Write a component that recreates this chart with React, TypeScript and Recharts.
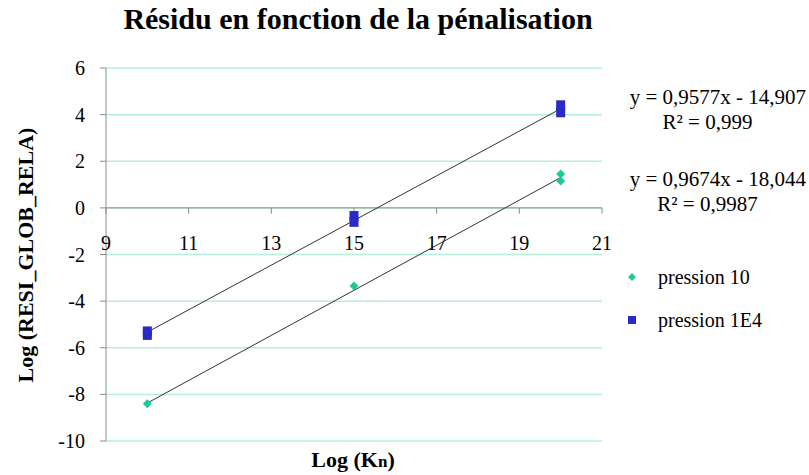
import React from 'react';
import {
  ScatterChart,
  Scatter,
  XAxis,
  YAxis,
  CartesianGrid,
  ReferenceLine,
} from 'recharts';

// measured points
const pression10 = [
  { x: 10, y: -8.4 },
  { x: 15, y: -3.35 },
  { x: 20, y: 1.15 },
  { x: 20, y: 1.45 },
];

const pression1E4 = [
  { x: 10, y: -5.3 },
  { x: 10, y: -5.45 },
  { x: 15, y: -0.35 },
  { x: 15, y: -0.6 },
  { x: 20, y: 4.1 },
  { x: 20, y: 4.4 },
];

// trend line end points
const trend10 = [
  { x: 10, y: -8.37 },
  { x: 20, y: 1.3 },
];
const trend1E4 = [
  { x: 10, y: -5.33 },
  { x: 20, y: 4.25 },
];

const xTicks = [9, 11, 13, 15, 17, 19, 21];
const yTicks = [-10, -8, -6, -4, -2, 0, 2, 4, 6];

const equations = [
  { eq: 'y = 0,9577x - 14,907', r2: 'R² = 0,999' },
  { eq: 'y = 0,9674x - 18,044', r2: 'R² = 0,9987' },
];

const legendItems = [
  { name: 'pression 10', color: '#1cc99a', shape: 'diamond' },
  { name: 'pression 1E4', color: '#2a2ac4', shape: 'square' },
];

const serif = "'Liberation Serif', 'Times New Roman', serif";
const axisGray = '#8c8c8c';

const Diamond = (props: any) => {
  const { cx, cy, fill } = props;
  const r = 4.5;
  return (
    <polygon
      points={`${cx},${cy - r} ${cx + r},${cy} ${cx},${cy + r} ${cx - r},${cy}`}
      fill={fill}
    />
  );
};

const Square = (props: any) => {
  const { cx, cy, fill } = props;
  const w = 9;
  const h = 10;
  return <rect x={cx - w / 2} y={cy - h / 2} width={w} height={h} fill={fill} />;
};

const App: React.FC = () => {
  return (
    <div style={{ position: 'absolute', left: 0, top: 0, width: 809, height: 475, background: '#fff', fontFamily: serif }}>
      <div
        style={{
          position: 'absolute',
          left: 0,
          width: 716,
          top: 2,
          textAlign: 'center',
          fontSize: 30,
          fontWeight: 'bold',
        }}
      >
        Résidu en fonction de la pénalisation
      </div>
      <div
        style={{
          position: 'absolute',
          left: 26,
          top: 255,
          transform: 'translate(-50%, -50%) rotate(-90deg)',
          whiteSpace: 'nowrap',
          fontSize: 22,
          fontWeight: 'bold',
        }}
      >
        Log (RESI_GLOB_RELA)
      </div>
      <div
        style={{
          position: 'absolute',
          left: 253,
          width: 200,
          top: 447,
          textAlign: 'center',
          fontSize: 22,
          fontWeight: 'bold',
        }}
      >
        Log (K<span style={{ fontSize: 17 }}>n</span>)
      </div>

      <ScatterChart
        width={809}
        height={475}
        margin={{ top: 68, right: 207, bottom: 34, left: 56 }}
        style={{ position: 'absolute', left: 0, top: 0 }}
      >
        <CartesianGrid vertical={false} stroke="#b6f0da" strokeWidth={1.5} />
        <XAxis type="number" dataKey="x" domain={[9, 21]} ticks={xTicks} hide height={0} />
        <YAxis
          type="number"
          dataKey="y"
          domain={[-10, 6]}
          ticks={yTicks}
          width={50}
          interval={0}
          axisLine={{ stroke: axisGray }}
          tickLine={{ stroke: axisGray }}
          tickSize={6}
          tickMargin={15}
          tick={{ fill: '#000', fontSize: 20, fontFamily: serif }}
        />
        <ReferenceLine y={0} stroke={axisGray} strokeWidth={1} />
        {xTicks.map((t) => (
          <ReferenceLine
            key={t}
            segment={[
              { x: t, y: 0 },
              { x: t, y: -0.25 },
            ]}
            stroke={axisGray}
            ifOverflow="visible"
            label={{
              value: String(t),
              position: 'bottom',
              fill: '#000',
              fontSize: 20,
              fontFamily: serif,
              offset: 22,
            }}
          />
        ))}
        <Scatter
          data={trend1E4}
          line={{ stroke: '#333', strokeWidth: 1 }}
          shape={() => <g />}
          isAnimationActive={false}
        />
        <Scatter
          data={trend10}
          line={{ stroke: '#333', strokeWidth: 1 }}
          shape={() => <g />}
          isAnimationActive={false}
        />
        <Scatter
          name="pression 10"
          data={pression10}
          fill="#1cc99a"
          shape={Diamond}
          isAnimationActive={false}
        />
        <Scatter
          name="pression 1E4"
          data={pression1E4}
          fill="#2a2ac4"
          shape={Square}
          isAnimationActive={false}
        />
      </ScatterChart>

      {equations.map((e, i) => (
        <div
          key={i}
          style={{
            position: 'absolute',
            left: 606,
            width: 203,
            top: 85 + i * 82,
            textAlign: 'center',
            fontSize: 21,
            lineHeight: '25px',
          }}
        >
          <div style={{ textAlign: 'right', paddingRight: 3, whiteSpace: 'nowrap' }}>{e.eq}</div>
          <div>{e.r2}</div>
        </div>
      ))}

      {legendItems.map((l, i) => (
        <div
          key={l.name}
          style={{
            position: 'absolute',
            left: 626,
            top: 264 + i * 43,
            fontSize: 20,
            lineHeight: '26px',
            display: 'flex',
            alignItems: 'center',
            whiteSpace: 'nowrap',
          }}
        >
          <svg width={12} height={12} style={{ marginRight: 20 }}>
            {l.shape === 'diamond' ? (
              <polygon points="6,2 10,6 6,10 2,6" fill={l.color} />
            ) : (
              <rect x={2} y={2} width={8} height={8} fill={l.color} />
            )}
          </svg>
          <span>{l.name}</span>
        </div>
      ))}
    </div>
  );
};

export default App;
